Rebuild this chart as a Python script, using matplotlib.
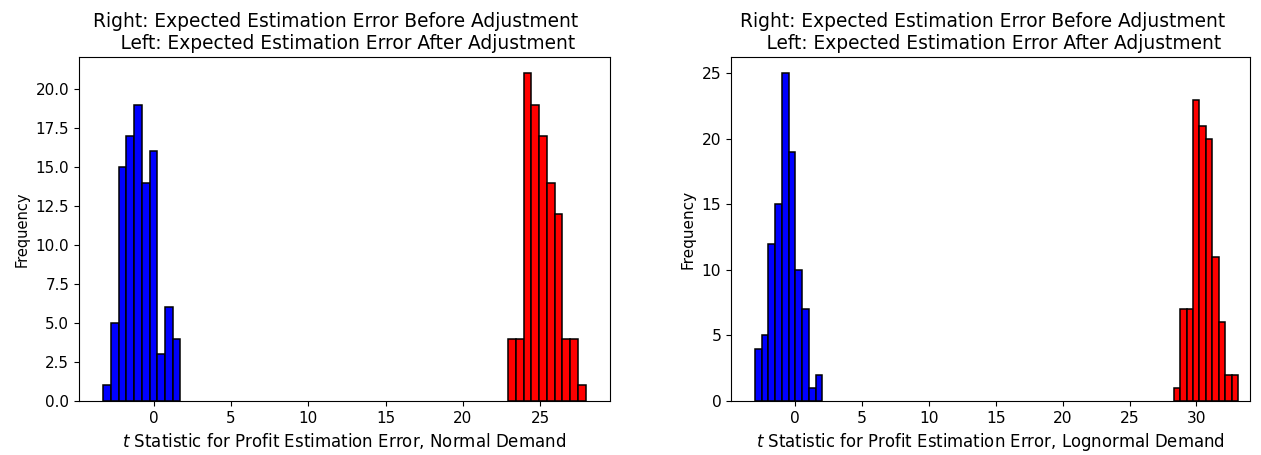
import numpy as np
import matplotlib
matplotlib.use("Agg")
import matplotlib.pyplot as plt

# ---- data ----
title_text = "Right: Expected Estimation Error Before Adjustment\n    Left: Expected Estimation Error After Adjustment"
xlabels = [r"$t$ Statistic for Profit Estimation Error, Normal Demand",
           r"$t$ Statistic for Profit Estimation Error, Lognormal Demand"]

# Normal demand panel
normal_after_start, normal_after_end = -3.27, 1.73
normal_after_counts = [1, 5, 15, 17, 19, 14, 16, 3, 6, 4]
normal_before_start, normal_before_end = 22.91, 27.95
normal_before_counts = [4, 4, 21, 19, 17, 14, 12, 4, 4, 1]

# Lognormal demand panel
lognormal_after_start, lognormal_after_end = -2.99, 2.04
lognormal_after_counts = [4, 5, 12, 15, 25, 19, 10, 7, 1, 2]
lognormal_before_start, lognormal_before_end = 28.3, 33.1
lognormal_before_counts = [1, 7, 7, 23, 21, 20, 11, 6, 2, 2]

panels = [
    ((normal_after_start, normal_after_end, normal_after_counts),
     (normal_before_start, normal_before_end, normal_before_counts)),
    ((lognormal_after_start, lognormal_after_end, lognormal_after_counts),
     (lognormal_before_start, lognormal_before_end, lognormal_before_counts)),
]

fig = plt.figure(figsize=(12.61, 4.55), dpi=100)
ax1 = fig.add_axes([79/1261, 54/455, (610-79)/1261, (401-57)/455])
ax2 = fig.add_axes([731/1261, 54/455, (1250-731)/1261, (401-57)/455])

sizes = [dict(title=13.45, xlabel=12.0, ylabel=10.5, ticks=10.9),
         dict(title=13.45, xlabel=11.9, ylabel=11.0, ticks=11.2)]

for ax, (after, before), xl, fs in zip([ax1, ax2], panels, xlabels, sizes):
    for (s, e, c), col in [(after, 'blue'), (before, 'red')]:
        edges = np.linspace(s, e, len(c) + 1)
        centers = (edges[:-1] + edges[1:]) / 2
        ax.hist(centers, bins=edges, weights=c, color=col, edgecolor='black', linewidth=1.1)
    ax.set_title(title_text, fontsize=fs['title'], x=0.484)
    ax.set_xlabel(xl, fontsize=fs['xlabel'])
    ax.set_ylabel("Frequency", fontsize=fs['ylabel'])
    ax.tick_params(labelsize=fs['ticks'])

ax2.set_xlim(-4.78, 34.0)

fig.savefig("out.png", dpi=100)
